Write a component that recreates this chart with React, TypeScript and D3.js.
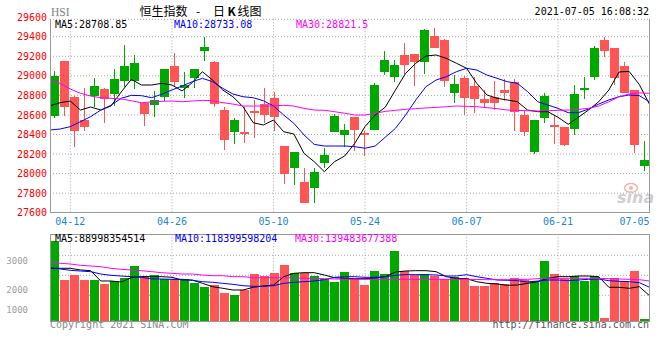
import React from "react";
import * as d3 from "d3";

// ---------- data ----------
const dateTicks = ["04-12", "04-26", "05-10", "05-24", "06-07", "06-21", "07-05"];
const dateTickIndex = [2, 12, 22, 31, 41, 50, 59];
const priceTicks = [27600, 27800, 28000, 28200, 28400, 28600, 28800, 29000, 29200, 29400, 29600];
const volTicks = [1000, 2000, 3000];

const open = [28589, 29151, 28786, 28548, 28793, 28865, 28814, 28947, 28947, 28725, 28701, 28783, 29100, 28875, 28981, 29257, 29141, 28650, 28425, 28425, 28640, 28711, 28773, 28282, 28057, 27914, 27853, 28108, 28425, 28395, 28579, 28415, 28446, 29039, 28988, 29213, 29223, 29141, 29407, 29366, 28824, 28978, 28896, 28763, 28783, 28855, 28937, 28599, 28221, 28569, 28497, 28477, 28456, 28855, 28988, 29366, 29284, 29100, 28855, 28081];
const close = [28998, 28684, 28439, 28480, 28896, 28763, 28967, 29100, 29131, 28613, 28753, 29070, 28937, 28906, 29070, 29298, 28711, 28344, 28548, 28405, 28620, 28599, 28579, 27996, 28221, 27699, 28016, 28190, 28589, 28446, 28446, 28395, 28906, 29162, 29110, 29110, 29141, 29469, 29284, 28947, 28916, 28773, 28763, 28725, 28722, 28824, 28630, 28425, 28548, 28793, 28477, 28293, 28814, 28875, 29284, 29253, 28978, 28821, 28292, 28139];
const high = [29052, 29151, 28790, 28872, 28974, 28872, 29070, 29315, 29213, 28725, 28845, 29070, 29236, 29039, 29070, 29400, 29151, 28681, 28569, 28681, 28753, 28872, 28834, 28282, 28221, 28057, 28057, 28262, 28610, 28507, 28579, 28436, 28926, 29253, 29162, 29335, 29223, 29478, 29488, 29376, 29008, 28998, 28988, 28855, 28947, 28967, 28967, 28650, 28548, 28824, 28599, 28477, 28906, 28988, 29305, 29397, 29284, 29141, 28855, 28333];
const low = [28572, 28589, 28269, 28439, 28684, 28520, 28691, 28889, 28865, 28487, 28579, 28742, 28896, 28773, 28875, 29151, 28681, 28244, 28303, 28313, 28364, 28517, 28436, 27894, 27884, 27699, 27699, 28057, 28425, 28272, 28231, 28180, 28446, 29008, 28937, 29018, 28896, 29018, 29284, 28886, 28722, 28599, 28620, 28681, 28650, 28742, 28436, 28384, 28201, 28517, 28303, 28282, 28395, 28763, 28957, 29192, 28906, 28821, 28214, 28026];

const ma5 = [28694, 28725, 28742, 28650, 28681, 28650, 28691, 28834, 28964, 28906, 28906, 28923, 28906, 28845, 28930, 29042, 28957, 28855, 28786, 28684, 28520, 28497, 28548, 28428, 28405, 28207, 28122, 28019, 28122, 28180, 28310, 28480, 28599, 28680, 28855, 29025, 29128, 29202, 29213, 29179, 29128, 29077, 28923, 28804, 28770, 28753, 28735, 28650, 28633, 28633, 28576, 28504, 28576, 28650, 28735, 28855, 29039, 29045, 28910, 28709];
const ma10 = [28446, 28456, 28480, 28531, 28582, 28650, 28698, 28770, 28800, 28797, 28776, 28811, 28855, 28896, 28940, 28974, 28940, 28872, 28814, 28786, 28776, 28745, 28691, 28599, 28514, 28395, 28299, 28282, 28282, 28282, 28275, 28259, 28282, 28372, 28463, 28599, 28753, 28889, 28957, 28991, 29042, 29077, 29059, 29008, 28974, 28940, 28923, 28838, 28735, 28701, 28667, 28623, 28623, 28660, 28711, 28753, 28786, 28804, 28797, 28733];
const ma30 = [28957, 28923, 28865, 28821, 28793, 28776, 28770, 28763, 28745, 28725, 28732, 28739, 28742, 28735, 28742, 28749, 28745, 28725, 28711, 28691, 28691, 28691, 28691, 28698, 28691, 28667, 28650, 28647, 28633, 28617, 28599, 28599, 28617, 28636, 28647, 28657, 28664, 28671, 28677, 28684, 28691, 28688, 28684, 28674, 28664, 28650, 28647, 28643, 28640, 28643, 28647, 28650, 28657, 28667, 28691, 28735, 28786, 28814, 28825, 28821];

const volume = [3672, 2345, 2515, 2345, 2345, 2209, 2311, 2413, 2822, 2492, 2515, 2379, 2379, 2379, 2243, 2107, 2175, 1903, 1835, 2005, 2549, 2481, 2583, 2856, 2583, 2583, 2492, 2379, 2277, 2617, 2379, 2175, 2651, 2549, 3332, 2651, 2515, 2549, 2481, 2379, 2447, 2413, 2141, 2141, 2243, 2209, 2413, 2345, 2311, 2992, 2549, 2379, 2481, 2311, 2481, 1042, 2413, 2311, 2651, 1008];
const vma5 = [2743, 2743, 2743, 2686, 2662, 2311, 2311, 2277, 2424, 2458, 2458, 2458, 2436, 2345, 2345, 2232, 2118, 2063, 2005, 2005, 2097, 2141, 2175, 2458, 2572, 2594, 2594, 2515, 2424, 2402, 2390, 2390, 2413, 2458, 2617, 2651, 2662, 2662, 2628, 2458, 2402, 2390, 2288, 2232, 2209, 2164, 2175, 2232, 2288, 2402, 2458, 2458, 2481, 2481, 2458, 2097, 2097, 2063, 2118, 1811];
const vma10 = [2764, 2720, 2675, 2651, 2628, 2549, 2505, 2481, 2458, 2436, 2379, 2379, 2368, 2368, 2334, 2288, 2266, 2232, 2198, 2152, 2130, 2130, 2152, 2232, 2266, 2288, 2311, 2356, 2436, 2458, 2458, 2436, 2436, 2458, 2505, 2527, 2527, 2527, 2515, 2481, 2481, 2527, 2458, 2402, 2345, 2334, 2322, 2277, 2311, 2345, 2345, 2322, 2345, 2368, 2379, 2322, 2300, 2288, 2254, 2097];
const vma30 = [2968, 2913, 2890, 2845, 2822, 2798, 2743, 2709, 2686, 2662, 2628, 2594, 2572, 2549, 2549, 2515, 2492, 2492, 2458, 2458, 2424, 2424, 2424, 2424, 2413, 2405, 2398, 2390, 2380, 2375, 2370, 2368, 2368, 2368, 2368, 2368, 2368, 2368, 2368, 2368, 2368, 2368, 2362, 2356, 2356, 2356, 2362, 2368, 2390, 2402, 2402, 2402, 2402, 2402, 2402, 2390, 2379, 2368, 2356, 2311];

const maLabels = ["MA5:28708.85", "MA10:28733.08", "MA30:28821.5"];
const vmaLabels = ["MA5:88998354514", "MA10:118399598204", "MA30:139483677388"];
const maColors = ["#000000", "#0000ff", "#ff00ff"];

// ---------- layout ----------
const W = 660, H = 360;
const L = 50, R = 649.5;
const mTop = 19.3, mBot = 212.7;
const vTop = 234.3, vBot = 321;
const UP = "#00a800", DOWN = "#ff5555";
const GRID = "#a8a8a8", BORDER = "#999999";
const MONO = "'DejaVu Sans Mono', monospace";

const n = close.length;
const idx = d3.range(n);
const xBand = d3.scaleBand<number>().domain(idx).range([L, L + n * 10]).padding(0);
const xLine = d3.scaleLinear().domain([0, n - 1]).range([L, R]);
const yP = d3.scaleLinear().domain([27600, 29400]).range([mBot, 36.7]);
const yV = d3.scaleLinear().domain([950, 3900]).range([vBot, vTop]);

const priceLine = d3.line<number>().x((_, i) => xLine(i)).y((d) => yP(d));
const volLine = d3.line<number>().x((_, i) => xLine(i)).y((d) => yV(d));

export default function App() {
  const bw = xBand.bandwidth() - 1;
  const volGrid = [0, 1, 2].map((k) => vTop + 21 + k * 20);
  return (
    <svg width={W} height={H} style={{ position: "absolute", left: 0, top: 0, background: "#fff" }}
      xmlns="http://www.w3.org/2000/svg">
      <rect x={0} y={0} width={W} height={H} fill="#fff" />
      {/* header */}
      <text x={51} y={15.5} fontFamily="'Liberation Serif', serif" fontSize={11.5} fill="#808080">HSI</text>
      <text y={15.5} fontFamily="'Noto Sans CJK SC', sans-serif" fontSize={12} fill="#000">
        <tspan x={139.5}>恒生指数</tspan>
        <tspan x={196}>-</tspan>
        <tspan x={213}>日</tspan>
        <tspan x={227.5} fontWeight="bold">K</tspan>
        <tspan x={237.5}>线图</tspan>
      </text>
      <text x={649} y={15} textAnchor="end" fontFamily={MONO} fontSize={10} fill="#000">2021-07-05 16:08:32</text>

      {/* main grid */}
      {priceTicks.filter((v) => yP(v) > mTop + 1 && v !== 27600).map((v) => (
        <line key={"pg" + v} x1={L} x2={R} y1={yP(v)} y2={yP(v)} stroke={GRID} strokeDasharray="1,2" />
      ))}
      {dateTickIndex.map((i) => (
        <g key={"dg" + i}>
          <line x1={xLine(i)} x2={xLine(i)} y1={mTop} y2={mBot} stroke={GRID} strokeDasharray="1,2" />
          <line x1={xLine(i)} x2={xLine(i)} y1={vTop} y2={vBot} stroke={GRID} strokeDasharray="1,2" />
        </g>
      ))}
      <line x1={L} x2={R} y1={mTop} y2={mTop} stroke={GRID} strokeDasharray="1,2" />
      {volGrid.map((y, k) => (
        <line key={"vg" + k} x1={L} x2={R} y1={y} y2={y} stroke={GRID} strokeDasharray="1,2" />
      ))}

      {/* price labels */}
      {priceTicks.map((v) => (
        <text key={"pl" + v} x={47} y={yP(v) + 3.6} textAnchor="end" fontFamily={MONO} fontSize={10} fill="#ff0000">{v}</text>
      ))}
      {/* date labels */}
      {dateTickIndex.map((i, k) => {
        const x = Math.min(xLine(i), R - 15);
        return (
          <text key={"dl" + i} x={x} y={225.3} textAnchor="middle" fontFamily={MONO} fontSize={10} fill="#1a86d8">{dateTicks[k]}</text>
        );
      })}
      {/* volume labels */}
      {volTicks.map((v) => (
        <text key={"vl" + v} x={28} y={Math.min(yV(v), 310) + 3.3} textAnchor="end" fontFamily={MONO} fontSize={9} fill="#a0a0a0">{v}</text>
      ))}

      {/* sina watermark */}
      <ellipse cx={631} cy={188} rx={6.5} ry={4.5} fill="none" stroke="#f3b3b3" strokeWidth={1.5} />
      <circle cx={631} cy={188} r={2} fill="#f3b3b3" />
      <text x={617} y={203} fontFamily="'DejaVu Sans', sans-serif" fontStyle="italic" fontWeight="bold" fontSize={16} fill="#cfcfcf">sina</text>

      {/* candles */}
      <g shapeRendering="crispEdges">
        {idx.map((i) => {
          const up = close[i] >= open[i];
          const c = up ? UP : DOWN;
          const x = xBand(i)!;
          const yt = yP(Math.max(open[i], close[i]));
          const yb = yP(Math.min(open[i], close[i]));
          return (
            <g key={"c" + i}>
              <line x1={x + 4.5} x2={x + 4.5} y1={yP(high[i])} y2={yP(low[i])} stroke={c} />
              <rect x={x} y={yt} width={bw} height={Math.max(1, yb - yt)} fill={c} />
            </g>
          );
        })}
      </g>
      {/* main MAs */}
      {[ma5, ma10, ma30].map((s, k) => (
        <path key={"ma" + k} d={priceLine(s)!} fill="none" stroke={maColors[k]} strokeWidth={1} />
      ))}

      {/* volume bars */}
      <g shapeRendering="crispEdges">
        {idx.map((i) => {
          const up = close[i] >= open[i];
          const x = xBand(i)!;
          return <rect key={"v" + i} x={x} y={yV(volume[i])} width={bw} height={vBot - yV(volume[i])} fill={up ? UP : DOWN} />;
        })}
      </g>
      {[vma5, vma10, vma30].map((s, k) => (
        <path key={"vma" + k} d={volLine(s)!} fill="none" stroke={maColors[k]} strokeWidth={1} />
      ))}

      {/* borders */}
      <g stroke={BORDER} shapeRendering="crispEdges" fill="none">
        <line x1={L} x2={L} y1={mTop} y2={mBot} />
        <line x1={R} x2={R} y1={mTop} y2={mBot} />
        <line x1={L} x2={R} y1={mBot} y2={mBot} />
        <line x1={L} x2={R} y1={vTop} y2={vTop} />
        <line x1={L} x2={L} y1={vTop} y2={vBot} />
        <line x1={R} x2={R} y1={vTop} y2={vBot} />
        <line x1={L} x2={R} y1={vBot} y2={vBot} />
      </g>

      {/* MA legends */}
      {maLabels.map((t, k) => (
        <text key={"mal" + k} x={[55, 174, 296][k]} y={27.6} fontFamily={MONO} fontSize={10} fill={maColors[k]}>{t}</text>
      ))}
      {vmaLabels.map((t, k) => (
        <text key={"vmal" + k} x={[55, 175, 295][k]} y={241.9} fontFamily={MONO} fontSize={10} fill={maColors[k]}>{t}</text>
      ))}

      {/* footer */}
      <text x={50} y={327.6} fontFamily={MONO} fontSize={10} fill="#8a8a8a">Copyright 2021 SINA.COM</text>
      <text x={649} y={327.6} textAnchor="end" fontFamily={MONO} fontSize={10} fill="#555">http://finance.sina.com.cn</text>
    </svg>
  );
}
